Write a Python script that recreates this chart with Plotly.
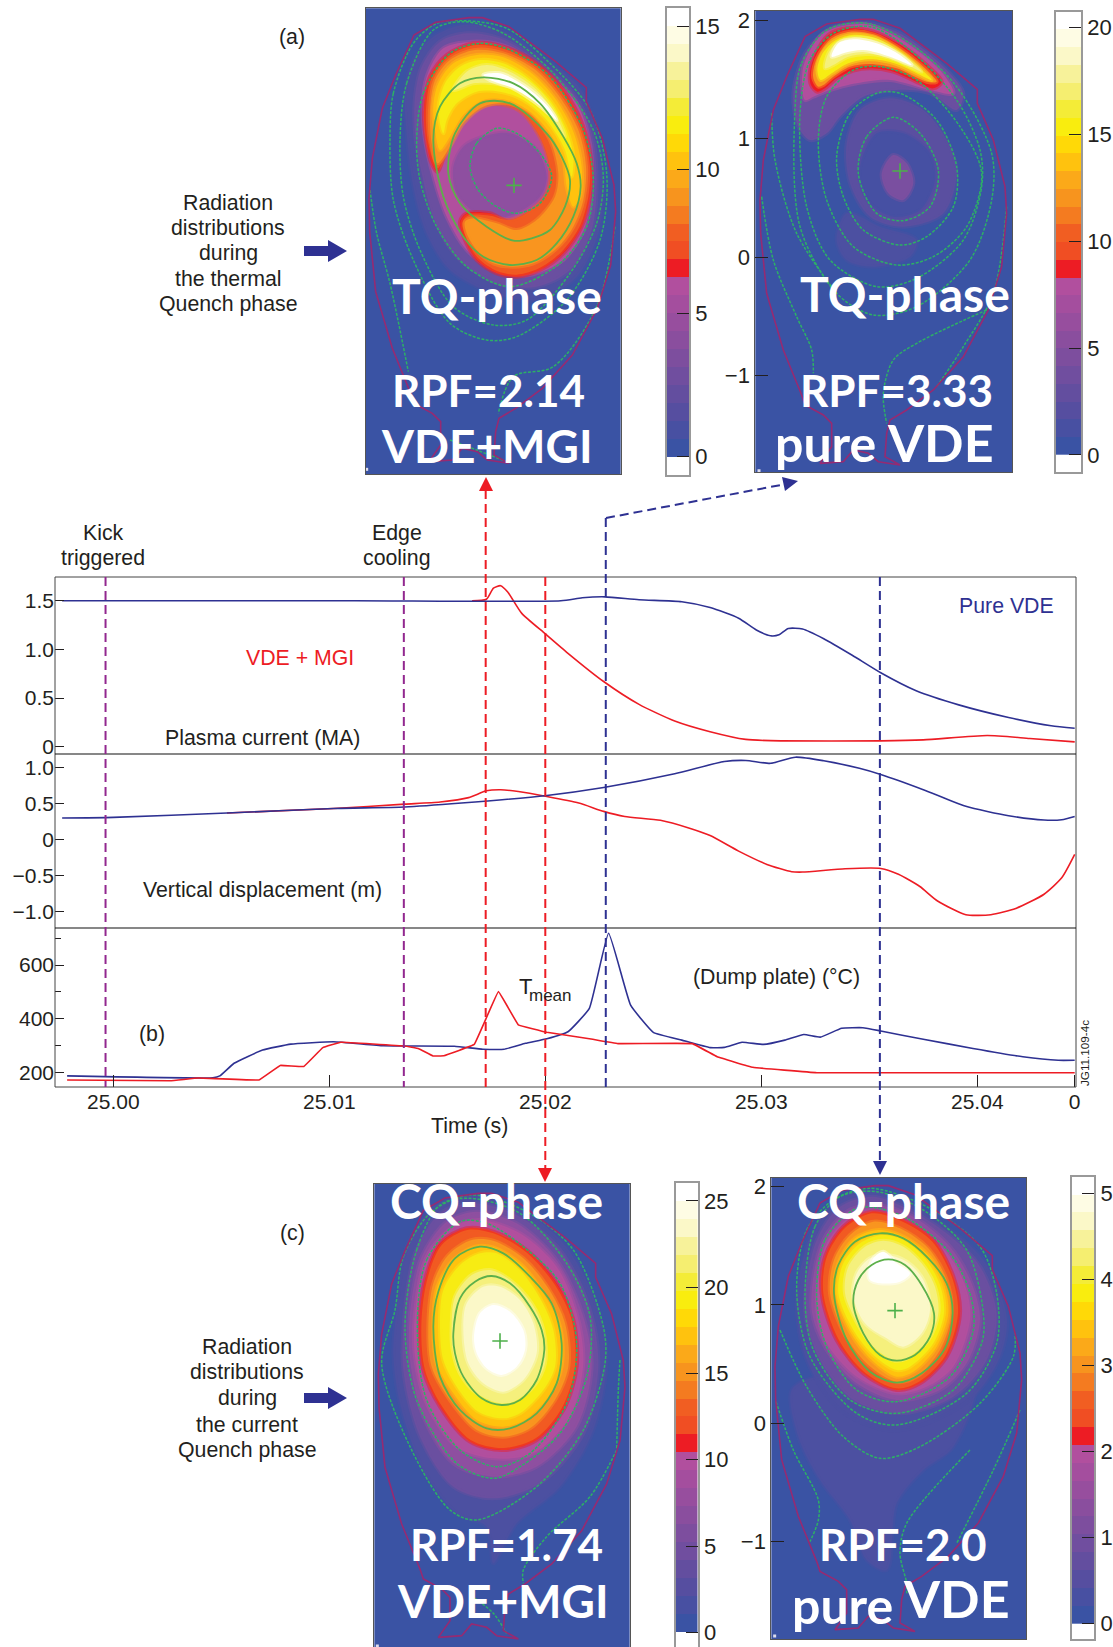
import plotly.graph_objects as go

W, H = 1113, 1647
BLUE, RED, PURPLE = "#2E3192", "#ED1C24", "#92278F"
FONT = "Liberation Sans"

# ---------- time traces (time in s) ----------
IP_BLUE_T = [24.99763,25.01118,25.02072,25.02171,25.02276,25.02434,25.02632,25.02763,25.02895,25.02977,25.03043,25.03082,25.03125,25.03191,25.03289,25.03421,25.03553,25.03717,25.03914,25.04145,25.04342,25.04451]
IP_BLUE = [1.5,1.5,1.5,1.53,1.54,1.51,1.49,1.43,1.32,1.2,1.14,1.15,1.215,1.21,1.11,.94,.76,.575,.43,.30,.215,.19]
IP_RED_T = [25.01661,25.01727,25.0176,25.01793,25.01826,25.01891,25.02,25.02105,25.0227,25.02434,25.02599,25.02763,25.02928,25.03092,25.03553,25.0375,25.04046,25.04243,25.04451]
IP_RED = [1.5,1.515,1.63,1.655,1.59,1.37,1.16,.96,.67,.435,.264,.154,.075,.06,.06,.07,.115,.085,.05]
Z_BLUE_T = [24.99763,25.0,25.00526,25.0102,25.01349,25.01612,25.02007,25.0227,25.02599,25.02829,25.02928,25.03043,25.03158,25.03289,25.03454,25.03553,25.0375,25.03947,25.04145,25.04309,25.04391,25.04451]
Z_BLUE = [.298,.307,.367,.43,.45,.505,.61,.72,.91,1.08,1.095,1.055,1.14,1.09,.986,.90,.69,.46,.33,.27,.275,.32]
Z_RED_T = [25.00526,25.0102,25.01349,25.01513,25.01645,25.01727,25.01793,25.01875,25.02007,25.02155,25.0227,25.02368,25.02533,25.02664,25.02763,25.02895,25.03026,25.03141,25.03191,25.03388,25.03553,25.03635,25.03734,25.03816,25.03947,25.04063,25.04178,25.04309,25.04391,25.04451]
Z_RED = [.367,.43,.49,.52,.58,.675,.69,.665,.596,.505,.39,.32,.266,.16,.055,-.16,-.344,-.445,-.45,-.404,-.40,-.48,-.65,-.85,-1.04,-1.04,-.954,-.757,-.53,-.206]
T_BLUE_T = [24.99786,25.00461,25.00493,25.00559,25.00691,25.00822,25.0102,25.0125,25.01579,25.01711,25.01809,25.01908,25.02007,25.02105,25.02204,25.02293,25.02395,25.025,25.02632,25.02763,25.02829,25.02911,25.0301,25.03109,25.03197,25.03273,25.03372,25.0347,25.03553,25.0375,25.0398,25.04211,25.04375,25.04451]
T_BLUE = [188,181,188,235,284,306,315,300,298,287,287,309,326,352,439,718,451,350,321,293,294,313,305,321,342,332,365,367,355,324,290,259,246,246]
T_RED_T = [24.99786,25.00263,25.00395,25.00674,25.00773,25.00882,25.0097,25.01053,25.01349,25.01414,25.0148,25.0153,25.01671,25.01783,25.01875,25.02007,25.02204,25.02336,25.02681,25.02796,25.02961,25.03257,25.04451]
T_RED = [173,170,180,173,227,223,293,313,299,289,262,263,305,501,378,350,326,308,308,259,220,200,200]
TIME_TICKS = [25.0,25.01,25.02,25.03,25.04,25.0445]
TIME_LABELS = ["25.00","25.01","25.02","25.03","25.04","0"]
KICK_T, EDGE_T, RED1_T, RED2_T, BLUE1_T, BLUE2_T = 24.99964,25.01345,25.01724,25.02,25.0228,25.03549

# ---------- shared colour bands, bottom to top ----------
BANDS = ["#3A53A4","#4850A2","#564EA0","#634E9F","#704E9F","#7D4E9E","#8A4E9E","#974E9E","#A44E9E","#B14F9E","#ED1C24","#F04E23","#F15E22","#F47B20","#F7941E","#FBA919","#FFC20E","#FFD907","#F9ED0E","#F4EC37","#F5EE70","#F7F29A","#FBF8C8","#FEFCE4","#FFFFFF"]
DIM,D2,D3,MAG,OR0,ORA,GOLD,YEL,PALE,CREAM,WHT,REDB = "#4C50A1","#6A4FA0","#8E4FA0","#B14F9E","#F15A22","#F9951F","#FFC20E","#F7EC13","#F5F07C","#FBF8C8","#FFFFFF","#ED1C24"

# vessel wall, read in the frame of the top-right panel
VESSEL = [(215,1185),(160,1050),(110,880),(92,700),(90,600),(100,480),(130,330),(170,230),(225,110),(290,72),(390,58),(430,58),(510,85),(650,190),(742,268),(742,310),(790,420),(825,560),(830,640),(815,800),(775,930),(700,1070),(610,1170),(530,1230),(480,1260),(470,1300),(465,1370),(510,1395),(445,1385),(415,1360),(370,1350),(340,1385),(270,1390),(305,1340),(305,1270),(280,1245),(225,1215),(215,1185)]

# ---------- (a) left: read-off outlines ----------
A1_H1 = [(190,180),(250,110),(340,75),(450,90),(560,160),(690,265),(740,400),(760,560),(745,700),(680,830),(560,900),(430,880),(300,810),(230,700),(190,560),(170,400),(165,280)]
A1_H2 = [(215,200),(270,125),(350,100),(450,115),(560,180),(670,280),(725,400),(740,540),(725,690),(660,810),(560,860),(440,850),(320,770),(250,650),(215,520),(195,400),(195,290)]
A1_H3 = [(230,230),(280,145),(370,125),(470,140),(580,210),(680,310),(720,430),(725,560),(705,680),(640,780),(540,825),(440,815),(350,750),(290,650),(250,530),(225,420),(218,320)]
A1_C = [(400,410),(480,400),(560,450),(590,530),(570,590),(470,650),(380,640),(320,580),(310,500),(340,440)]
A1_RED = [(262,515),(285,460),(320,375),(380,320),(440,305),(510,325),(570,400),(600,480),(605,540),(590,590),(545,635),(480,665),(420,640),(350,640),(330,665),(345,720),(380,780),(440,820),(500,830),(570,810),(640,760),(695,680),(720,590),(725,500),(700,380),(640,270),(560,190),(460,140),(370,130),(290,165),(240,230),(222,330),(230,430),(245,490)]
A1_OR0 = [(262,505),(290,455),(326,378),(383,326),(440,312),(507,331),(565,403),(595,480),(600,540),(585,588),(543,630),(480,660),(420,647),(353,647),(337,668),(350,717),(385,775),(443,814),(500,824),(567,805),(635,755),(690,677),(715,590),(720,500),(695,383),(635,273),(557,195),(460,146),(371,136),(293,171),(245,233),(228,330),(235,430)]
A1_OR = [(262,490),(245,430),(240,330),(255,240),(300,180),(375,150),(460,160),(550,205),(625,285),(685,390),(708,500),(700,600),(670,680),(620,745),(550,790),(490,800),(430,790),(380,750),(350,700),(345,665),(370,655),(440,670),(500,690),(560,660),(615,590),(625,520),(600,420),(540,340),(470,310),(400,320),(340,370),(300,440)]
A1_GOLD = [(270,450),(255,390),(250,320),(265,250),(310,190),(380,165),(460,172),(545,220),(615,295),(670,395),(695,500),(690,590),(670,620),(650,560),(640,480),(600,400),(540,335),(470,300),(400,300),(340,345),(300,410)]
A1_YEL = [(280,400),(265,330),(285,250),(330,200),(390,180),(460,190),(530,230),(600,300),(650,390),(670,470),(665,530),(645,450),(590,360),(520,300),(450,275),(380,275),(320,310),(290,360)]
A1_PALE = [(310,270),(350,215),(410,195),(480,215),(560,270),(620,350),(645,410),(590,330),(510,270),(430,250),(370,250),(330,265)]
A1_WHITE = [(400,225),(450,220),(520,255),(590,315),(620,360),(560,310),(490,265),(420,240)]
A1_F1 = [(360,500),(380,430),(440,385),(500,400),(570,460),(605,530),(570,610),(500,640),(440,620),(385,570)]
A1_F2 = [(295,520),(315,400),(390,310),(480,310),(590,400),(635,470),(660,540),(645,620),(600,690),(545,715),(490,722),(410,680),(330,610)]
A1_F3 = [(250,420),(270,320),(330,250),(400,232),(490,250),(570,310),(640,410),(680,490),(692,560),(670,650),(620,730),(560,780),(480,795),(400,770),(340,710),(280,590)]
A1_F4 = [(200,420),(220,280),(300,160),(390,130),(480,150),(600,230),(700,390),(730,540),(710,680),(630,790),(480,860),(350,800),(260,680),(210,540)]
A1_F5 = [(150,420),(170,250),(250,90),(340,65),(460,100),(610,220),(730,390),(760,530),(740,670),(660,820),(530,960),(430,975),(310,920),(210,750),(160,590)]
A1_F6 = [(120,420),(130,280),(190,130),(260,70),(340,62),(470,85),(600,190),(720,330),(770,520),(750,720),(650,900),(500,1010),(410,1020),(300,970),(190,780),(130,600)]
A1_L1 = [(60,570),(80,700),(120,850),(175,1115)]
A1_L2 = [(795,680),(740,920),(610,1100),(490,1130),(445,1240)]
A1_L3 = [(300,1320),(380,1350),(470,1385)]

# ---------- (a) right ----------
A2_B1 = [(320,720),(350,640),(450,680),(560,720),(540,770),(430,800),(350,780)]
A2_B2 = [(205,380),(190,280),(225,160),(300,85),(400,68),(500,95),(630,190),(700,280),(680,330),(600,280),(500,270),(400,290),(330,350),(290,400),(240,420)]
A2_B3 = [(350,430),(390,330),(480,295),(580,330),(650,420),(680,520),(640,640),(520,680),(420,650),(360,550)]
A2_B4 = [(395,480),(440,400),(520,400),(600,460),(615,540),(570,630),(490,650),(420,610),(390,540)]
A2_B5 = [(455,520),(490,465),(530,490),(550,550),(520,600),(475,580)]
A2_MAG = [(225,300),(220,200),(280,100),(400,72),(500,110),(630,210),(670,280),(600,270),(480,240),(380,250),(300,270),(250,290)]
A2_RED = [(262,275),(243,255),(240,215),(255,165),(295,105),(350,85),(430,95),(520,140),(590,195),(635,245),(610,265),(570,250),(490,215),(420,205),(370,212),(320,235),(285,265)]
A2_OR = [(265,260),(250,235),(252,200),(268,160),(305,115),(360,95),(430,103),(510,145),(580,200),(620,245),(590,245),(500,205),(420,192),(360,200),(310,230),(280,255)]
A2_YEL = [(272,240),(262,210),(275,165),(310,125),(365,105),(430,112),(510,155),(570,205),(605,240),(500,192),(420,178),(355,190),(305,220)]
A2_PALE = [(285,205),(295,160),(320,130),(370,113),(440,122),(510,160),(575,215),(500,180),(420,162),(355,170),(310,195)]
A2_WHITE = [(305,170),(325,130),(370,118),(440,130),(510,165),(545,195),(480,170),(400,150),(345,158)]
A2_F1 = [(385,520),(410,410),(490,352),(570,400),(625,510),(600,620),(520,662),(440,640)]
A2_F2 = [(320,470),(360,340),(440,280),(510,280),(620,360),(680,500),(670,620),(590,710),(510,735),(400,690),(340,590)]
A2_F3 = [(265,420),(290,290),(370,210),(450,200),(560,240),(690,380),(755,520),(710,680),(610,770),(500,795),(370,740),(290,600)]
A2_F4 = [(210,340),(240,180),(310,100),(420,80),(540,150),(680,300),(750,450),(755,560),(700,720),(560,835),(440,860),(300,780),(230,620)]
A2_F5 = [(195,330),(215,190),(290,90),(410,70),(540,130),(680,260),(785,460),(785,600),(720,780),(560,920),(430,945),(320,880),(210,680)]
A2_L1 = [(95,590),(130,780),(200,950),(245,1050),(250,1120)]
A2_L2 = [(830,620),(790,880),(700,1040),(620,1160)]
A2_L3 = [(770,930),(560,1030),(490,1080),(460,1180),(470,1270)]
A2_L4 = [(125,340),(135,480),(200,700),(320,880)]

# ---------- (c) left ----------
C1_D1 = [(110,420),(140,230),(220,110),(330,75),(470,110),(610,220),(700,380),(740,560),(700,780),(600,950),(470,1060),(420,1150),(400,1180),(380,1070),(290,1030),(190,900),(120,700),(100,550)]
C1_D2 = [(135,420),(165,250),(240,130),(340,100),(470,135),(600,240),(690,420),(715,590),(670,790),(540,940),(400,985),(280,950),(180,800),(130,600)]
C1_D3 = [(150,430),(185,260),(260,155),(350,125),(470,160),(590,270),(670,440),(695,590),(650,770),(530,890),(400,920),(280,880),(190,740),(150,570)]
C1_D4 = [(165,430),(200,260),(280,170),(360,150),(480,190),(590,290),(650,430),(670,580),(630,740),(520,850),(400,865),(290,830),(200,700),(165,560)]
C1_RED = [(178,470),(195,330),(240,220),(320,175),(400,185),(500,240),(590,340),(640,450),(650,590),(610,720),(530,810),(430,840),(330,815),(240,710),(190,600)]
C1_OR0 = [(184,470),(200,335),(245,225),(322,180),(400,190),(497,245),(585,345),(635,450),(645,590),(605,715),(527,805),(430,834),(332,810),(245,707),(195,600)]
C1_OR = [(205,470),(220,340),(265,255),(335,210),(400,212),(490,265),(565,355),(615,460),(625,590),(585,690),(510,775),(430,800),(350,780),(270,690),(215,590)]
C1_GOLD = [(220,470),(232,350),(280,270),(345,230),(400,232),(485,285),(550,370),(600,470),(605,590),(565,680),(495,750),(430,770),(350,750),(280,670),(230,580)]
C1_YEL = [(240,470),(250,360),(300,285),(360,250),(410,250),(480,300),(540,385),(580,480),(585,590),(550,660),(480,730),(430,745),(355,725),(290,650),(250,570)]
C1_PALE = [(275,470),(285,380),(335,315),(390,300),(450,330),(515,400),(550,480),(555,580),(520,650),(460,695),(420,700),(350,670),(300,610),(278,540)]
C1_CREAM = [(310,480),(320,400),(370,350),(420,350),(480,390),(520,460),(530,550),(490,630),(430,665),(370,640),(325,580)]
C1_WHITE = [(342,500),(360,430),(400,405),(450,425),(490,480),(495,540),(470,590),(425,615),(380,595),(350,550)]
C1_F1 = [(280,490),(300,385),(345,335),(395,318),(450,340),(510,410),(545,480),(553,540),(530,630),(480,690),(425,705),(365,685),(310,620),(285,550)]
C1_F2 = [(220,470),(235,365),(285,265),(360,230),(430,250),(510,320),(575,400),(605,520),(590,640),(530,730),(450,775),(380,775),(300,720),(240,620)]
C1_F3 = [(172,470),(200,270),(300,155),(380,160),(490,230),(600,340),(650,520),(620,700),(510,850),(410,890),(300,840),(200,690)]
C1_F4 = [(135,470),(170,240),(240,105),(330,85),(480,130),(620,280),(690,440),(680,620),(600,790),(480,890),(400,925),(290,880),(170,690)]
C1_F5 = [(105,420),(130,260),(210,130),(330,75),(500,125),(640,240),(730,470),(735,580),(670,780),(530,950),(350,1050),(270,1020),(150,830),(65,580)]
C1_L1 = [(770,840),(690,980),(560,1100),(490,1200),(490,1240)]
C1_L2 = [(780,570),(775,660),(770,840)]
C1_L3 = [(345,1285),(400,1330),(440,1390)]

# ---------- (c) right ----------
C2_D1 = [(155,660),(230,620),(700,620),(640,830),(550,900),(470,1000),(440,1200),(380,1170),(330,1050),(240,930),(175,800)]
C2_D1B = [(170,400),(210,200),(290,90),(390,60),(500,90),(620,170),(730,270),(800,440),(780,560),(700,680),(560,760),(440,780),(300,720),(200,570)]
C2_D2 = [(195,420),(230,210),(300,110),(400,80),(510,120),(620,190),(720,290),(770,430),(740,570),(640,680),(480,730),(340,690),(240,570)]
C2_D3 = [(215,420),(245,220),(320,125),(410,105),(520,140),(630,230),(695,340),(720,450),(680,580),(600,660),(470,690),(350,640),(260,540)]
C2_D4 = [(232,420),(255,230),(330,140),(410,120),(520,160),(630,260),(680,360),(690,450),(640,590),(560,650),(470,670),(350,620),(260,520)]
C2_RED = [(245,370),(255,260),(310,170),(395,125),(490,150),(580,210),(640,320),(660,430),(620,560),(540,640),(470,660),(370,610),(290,510)]
C2_OR0 = [(250,370),(260,262),(314,175),(395,130),(488,155),(577,215),(636,322),(654,430),(615,558),(537,635),(470,655),(372,605),(295,507)]
C2_OR = [(270,370),(282,270),(330,195),(400,155),(480,175),(565,235),(620,330),(635,430),(600,540),(530,620),(470,635),(385,585),(315,495)]
C2_GOLD = [(285,370),(295,280),(345,205),(415,180),(480,195),(560,250),(610,335),(625,430),(590,530),(520,605),(470,620),(395,570),(330,485)]
C2_YEL = [(295,370),(310,280),(360,220),(425,195),(490,210),(555,265),(600,345),(612,430),(580,520),(510,590),(470,600),(400,555),(340,480)]
C2_PALE = [(315,370),(325,290),(375,230),(430,212),(490,230),(545,280),(585,350),(595,430),(565,510),(500,565),(465,572),(405,535),(355,465)]
C2_CREAM = [(340,380),(350,310),(390,265),(440,255),(500,275),(550,330),(570,420),(545,490),(490,530),(440,505),(375,460)]
C2_WHITE = [(385,310),(400,265),(430,245),(470,280),(510,310),(480,335),(420,340),(390,330)]
C2_F1 = [(340,400),(355,330),(395,285),(445,268),(495,285),(545,345),(582,430),(570,500),(525,555),(470,572),(420,555),(370,490)]
C2_F2 = [(282,370),(295,285),(345,215),(420,190),(490,205),(565,265),(620,340),(638,430),(615,535),(545,610),(470,638),(390,605),(320,510)]
C2_F3 = [(230,380),(255,210),(340,120),(400,112),(510,150),(630,250),(690,370),(700,480),(630,620),(470,695),(350,660),(260,530)]
C2_F4 = [(195,380),(225,170),(300,80),(410,65),(550,120),(680,240),(730,430),(725,520),(640,660),(470,730),(330,690),(220,540)]
C2_F5 = [(170,360),(200,180),(280,90),(390,55),(560,110),(720,230),(770,370),(770,520),(680,670),(470,765),(350,730),(210,560)]
C2_L1 = [(120,480),(200,650),(310,800),(420,865),(540,830),(720,700),(820,560),(825,490)]
C2_L2 = [(108,695),(160,840),(235,990),(235,1050),(210,1115)]
C2_L3 = [(840,720),(760,900),(650,1120)]
C2_L4 = [(690,840),(500,1060),(480,1150),(500,1240),(500,1270)]

PX_PER_M = 355.0
fig = go.Figure()
layout = dict(width=W, height=H, margin=dict(l=0,r=0,t=0,b=0), paper_bgcolor="white", plot_bgcolor="rgba(0,0,0,0)",
              showlegend=False, font=dict(family=FONT, color="#231F20"))
shapes, annos = [], []

def px(x): return x/W
def py(y): return 1-y/H

def text(x, y, s, size=21.3, color="#231F20", family=FONT, angle=0, weight="normal"):
    annos.append(dict(xref="paper", yref="paper", x=px(x), y=py(y), text=s, showarrow=False, xanchor="center", yanchor="middle",
                      font=dict(size=size, color=color, family=family, weight=weight), textangle=angle))

def poly(points, color):
    d = "M" + " L".join(f"{px(a):.5f} {py(b):.5f}" for a, b in points) + " Z"
    shapes.append(dict(type="path", xref="paper", yref="paper", path=d, fillcolor=color, line=dict(width=0), layer="above"))

def hexa(c, a):
    return f"rgba({int(c[1:3],16)},{int(c[3:5],16)},{int(c[5:7],16)},{a})"

# ---------- time series ----------
X0, X1 = 55, 1076
layout["xaxis"] = dict(domain=[px(X0), px(X1)], range=[24.9973, 25.04457], anchor="y3", tickvals=TIME_TICKS, ticktext=TIME_LABELS, automargin=False,
                       ticks="inside", ticklen=12, tickcolor="#231F20", tickfont=dict(size=21), showgrid=False, zeroline=False, showline=False)
yticks = dict(ticks="inside", ticklen=9, tickcolor="#231F20", tickfont=dict(size=21), showgrid=False, zeroline=False, showline=False, anchor="x", automargin=False)
layout["yaxis"] = dict(domain=[py(754), py(577)], range=[-0.075, 1.744], tickvals=[0,.5,1,1.5], ticktext=["0","0.5","1.0","1.5"], **yticks)
layout["yaxis2"] = dict(domain=[py(928), py(754)], range=[-1.224, 1.184], tickvals=[-1,-.5,0,.5,1], ticktext=["−1.0","−0.5","0","0.5","1.0"], **yticks)
layout["yaxis3"] = dict(domain=[py(1087), py(928)], range=[146.8, 737.5], tickvals=[200,400,600], minor=dict(tickvals=[300,500,700], ticks="inside", ticklen=6, tickcolor="#231F20"), **yticks)

def curve(t, v, color, ya, smooth=0.6):
    fig.add_trace(go.Scatter(x=t, y=v, xaxis="x", yaxis=ya, mode="lines", hoverinfo="skip",
                             line=dict(color=color, width=1.6, shape="spline", smoothing=smooth)))
curve(IP_RED_T, IP_RED, RED, "y"); curve(IP_BLUE_T, IP_BLUE, BLUE, "y")
curve(Z_RED_T, Z_RED, RED, "y2"); curve(Z_BLUE_T, Z_BLUE, BLUE, "y2")
curve(T_BLUE_T, T_BLUE, BLUE, "y3", 0.35); curve(T_RED_T, T_RED, RED, "y3", 0.15)

shapes.append(dict(type="rect", xref="paper", yref="paper", x0=px(X0), x1=px(X1), y0=py(1087), y1=py(577), line=dict(color="#444", width=1)))
for yy in (754, 928):
    shapes.append(dict(type="line", xref="paper", yref="paper", x0=px(X0), x1=px(X1), y0=py(yy), y1=py(yy), line=dict(color="#111", width=1.2)))

DASH = "9px,5px"
def vline(t, y0, y1, color):
    shapes.append(dict(type="line", xref="x", yref="paper", x0=t, x1=t, y0=py(y0), y1=py(y1), line=dict(color=color, width=2, dash=DASH), layer="above"))
vline(KICK_T, 577, 1087, PURPLE); vline(EDGE_T, 577, 1087, PURPLE)
vline(RED1_T, 1087, 490, RED); vline(RED2_T, 577, 1170, RED)
vline(BLUE1_T, 1087, 518, BLUE); vline(BLUE2_T, 577, 1162, BLUE)
shapes.append(dict(type="line", xref="paper", yref="paper", x0=px(606), x1=px(786), y0=py(518), y1=py(484), line=dict(color=BLUE, width=2, dash=DASH)))
poly([(486,477),(479,491),(493,491)], RED)
poly([(545,1182),(538,1168),(552,1168)], RED)
poly([(880,1175),(873,1161),(887,1161)], BLUE)
poly([(798,481),(782,477),(785,491)], BLUE)
for yy in (251, 1398):
    poly([(304,yy-5),(328,yy-5),(328,yy-11),(347,yy),(328,yy+11),(328,yy+5),(304,yy+5)], BLUE)

# ---------- cross-section panels ----------
axis_n = [4]
def new_axes(x0, x1, y0, y1, xr, yr, xextra, yextra):
    n = axis_n[0]; axis_n[0] += 1
    layout[f"xaxis{n}"] = dict(domain=[px(x0), px(x1)], range=xr, anchor=f"y{n}", showgrid=False, zeroline=False, automargin=False, **xextra)
    layout[f"yaxis{n}"] = dict(domain=[py(y1), py(y0)], range=yr, anchor=f"x{n}", showgrid=False, zeroline=False, automargin=False, **yextra)
    return f"x{n}", f"y{n}"

GREEN = "#2DB066"
def panel(ox, oy, e, dx, dy, fills, solid, dotted, legs, centre, dot, ticked):
    xc, zc = 460+dx, 771+dy
    R = lambda v: 3+(v-xc)/PX_PER_M
    Z = lambda v: (zc-v)/PX_PER_M
    frame = dict(showline=True, linecolor="#555", linewidth=1, mirror=True)
    yextra = dict(tickvals=[-1,0,1,2], ticks="inside", ticklen=13, tickcolor="#231F20", tickfont=dict(size=22), **frame) if ticked \
        else dict(showticklabels=False, ticks="", **frame)
    xa, ya = new_axes(ox+e[0]/3, ox+e[1]/3, oy+e[2]/3, min(H, oy+e[3]/3), [R(e[0]), R(e[1])], [Z(e[3]), Z(e[2])],
                      dict(showticklabels=False, ticks="", **frame), yextra)
    shapes.append(dict(type="rect", xref=f"{xa} domain", yref=f"{ya} domain", x0=0, x1=1, y0=0, y1=1, fillcolor="#3A53A4", line=dict(width=0), layer="below"))
    for pts, col in fills:
        closed = pts + pts[:1]
        fig.add_trace(go.Scatter(x=[R(p[0]) for p in closed], y=[Z(p[1]) for p in closed], xaxis=xa, yaxis=ya, mode="lines", fill="toself",
                                 fillcolor=col, hoverinfo="skip", line=dict(width=4, color=hexa(col, 0.45), shape="spline", smoothing=0.9)))
    for pts in dotted:
        closed = pts + pts[:1]
        fig.add_trace(go.Scatter(x=[R(p[0]) for p in closed], y=[Z(p[1]) for p in closed], xaxis=xa, yaxis=ya, mode="lines", hoverinfo="skip",
                                 line=dict(width=1.5, color=GREEN, dash="3px,1.5px", shape="spline", smoothing=0.9)))
    for pts in legs:
        fig.add_trace(go.Scatter(x=[R(p[0]) for p in pts], y=[Z(p[1]) for p in pts], xaxis=xa, yaxis=ya, mode="lines", hoverinfo="skip",
                                 line=dict(width=1.5, color=GREEN, dash="3px,1.5px", shape="spline", smoothing=0.9)))
    for pts in solid:
        closed = pts + pts[:1]
        fig.add_trace(go.Scatter(x=[R(p[0]) for p in closed], y=[Z(p[1]) for p in closed], xaxis=xa, yaxis=ya, mode="lines", hoverinfo="skip",
                                 line=dict(width=1.8, color="#5DB04A", shape="spline", smoothing=0.9)))
    vx = [3+(p[0]-460)/PX_PER_M for p in VESSEL]; vz = [(771-p[1])/PX_PER_M for p in VESSEL]
    fig.add_trace(go.Scatter(x=vx, y=vz, xaxis=xa, yaxis=ya, mode="lines", hoverinfo="skip", line=dict(width=1.6, color="#962A72")))
    fig.add_trace(go.Scatter(x=[R(centre[0])], y=[Z(centre[1])], xaxis=xa, yaxis=ya, mode="markers", hoverinfo="skip",
                             marker=dict(symbol="cross-thin", size=11, line=dict(width=1.6, color="#4DB04A"))))
    fig.add_trace(go.Scatter(x=[R(dot[0])], y=[Z(dot[1])], xaxis=xa, yaxis=ya, mode="markers", hoverinfo="skip",
                             marker=dict(symbol="square", size=3, color="#DDE")))

panel(350, 0, (48,812,25,1422), -33, -5,
      [(A1_H1,DIM),(A1_H2,D2),(A1_H3,MAG),(A1_C,D3),(A1_RED,REDB),(A1_OR0,OR0),(A1_OR,ORA),(A1_GOLD,GOLD),(A1_YEL,YEL),(A1_PALE,PALE),(A1_WHITE,WHT)],
      [A1_F2,A1_F3], [A1_F1,A1_F4,A1_F5,A1_F6], [A1_L1,A1_L2,A1_L3], (492,556), (50,1408), False)
panel(730, 0, (76,847,33,1417), 0, 0,
      [(A2_B1,DIM),(A2_B3,"#5A4FA0"),(A2_B4,"#4650A3"),(A2_B5,"#7A4FA0"),(A2_B2,D2),(A2_MAG,MAG),(A2_RED,REDB),(A2_OR,ORA),(A2_YEL,YEL),(A2_PALE,PALE),(A2_WHITE,WHT)],
      [], [A2_F1,A2_F2,A2_F3,A2_F4,A2_F5], [A2_L1,A2_L2,A2_L3,A2_L4], (510,513), (87,1412), True)
panel(360, 1170, (43,809,41,1431), -35, 12,
      [(C1_D1,DIM),(C1_D2,D2),(C1_D3,D3),(C1_D4,MAG),(C1_RED,REDB),(C1_OR0,OR0),(C1_OR,ORA),(C1_GOLD,GOLD),(C1_YEL,YEL),(C1_PALE,PALE),(C1_CREAM,CREAM),(C1_WHITE,WHT)],
      [C1_F1,C1_F2], [C1_F3,C1_F4,C1_F5], [C1_L1,C1_L2,C1_L3], (420,513), (52,1428), False)
panel(740, 1170, (94,859,23,1407), 15, -11,
      [(C2_D1,DIM),(C2_D1B,DIM),(C2_D2,D2),(C2_D3,D3),(C2_D4,MAG),(C2_RED,REDB),(C2_OR0,OR0),(C2_OR,ORA),(C2_GOLD,GOLD),(C2_YEL,YEL),(C2_PALE,PALE),(C2_CREAM,CREAM),(C2_WHITE,WHT)],
      [C2_F1,C2_F2], [C2_F3,C2_F4,C2_F5], [C2_L1,C2_L2,C2_L3,C2_L4], (465,422), (104,1398), True)

# ---------- colour bars ----------
CB_TICKS_A1 = [0,5,10,15]
CB_TICKS_A2 = [0,5,10,15,20]
CB_TICKS_C1 = [0,5,10,15,20,25]
CB_TICKS_C2 = [0,1,2,3,4,5]
n = len(BANDS)
scale = []
for i, c in enumerate(BANDS):
    scale += [[i/n, c], [(i+1)/n, c]]
def cbar(x0, x1, y0, y1, vmin, vmax, tv):
    lineopts = dict(showline=True, linecolor="#999", linewidth=1.8, mirror=True)
    xa, ya = new_axes(x0, x1, y0, y1, [0,1], [vmin, vmax], dict(showticklabels=False, ticks="", **lineopts),
                      dict(side="right", tickvals=tv, ticks="inside", ticklen=12, tickcolor="#231F20", tickfont=dict(size=22), **lineopts))
    edges = [vmax*i/n for i in range(n+1)]
    fig.add_trace(go.Heatmap(x=[0,1], y=edges, z=[[i+0.5] for i in range(n)], zmin=0, zmax=n, colorscale=scale, showscale=False,
                             xaxis=xa, yaxis=ya, hoverinfo="skip"))
cbar(667, 689, 8, 475, -0.64, 15.63, CB_TICKS_A1)
cbar(1056, 1081, 11.7, 472, -0.8, 20.73, CB_TICKS_A2)
cbar(675.7, 697.7, 1183, 1647, -0.85, 26.04, CB_TICKS_C1)
cbar(1071.7, 1094.3, 1176.7, 1639, -0.18, 5.19, CB_TICKS_C2)

# ---------- texts ----------
text(292,37,"(a)"); text(292,1233,"(c)"); text(152,1034,"(b)")
for y,s in zip((203,228,253,279,304),("Radiation","distributions","during","the thermal","Quench phase")): text(228,y,s)
for y,s in zip((1347,1372,1398,1425,1450),("Radiation","distributions","during","the current","Quench phase")): text(247,y,s)
text(103,533,"Kick"); text(103,558,"triggered"); text(397,533,"Edge"); text(397,558,"cooling")
text(1006,606,"Pure VDE",21.3,BLUE); text(300,658,"VDE + MGI",21.3,RED)
text(262,738,"Plasma current (MA)"); text(262,890,"Vertical displacement (m)")
text(525,987,"T",22); text(550,995,"mean",17); text(776,977,"(Dump plate) (°C)")
text(1084,1053,"JG11.109-4c",11.7,angle=-90)
text(469,1126,"Time (s)")
LAB, WGT = "Lato", 700
def big(x, y, s, size): text(x, y, s, size, "white", LAB, weight=WGT)
big(497,295,"TQ-phase",48); big(488,390,"RPF=2.14",44); big(487,445,"VDE+MGI",46)
big(905,293,"TQ-phase",48); big(896,390,"RPF=3.33",44); big(825,443,"pure",50); big(940,442,"VDE",52)
big(496,1200,"CQ-phase",48); big(506,1544,"RPF=1.74",44); big(503,1600,"VDE+MGI",46)
big(904,1200,"CQ-phase",48); big(902,1544,"RPF=2.0",44); big(842,1605,"pure",50); big(956,1598,"VDE",52)

layout["shapes"] = shapes
layout["annotations"] = annos
fig.update_layout(**layout)
fig.write_html("out.html", config=dict(displayModeBar=False),
               post_script="document.body.style.margin='0';document.body.style.overflow='hidden';")
